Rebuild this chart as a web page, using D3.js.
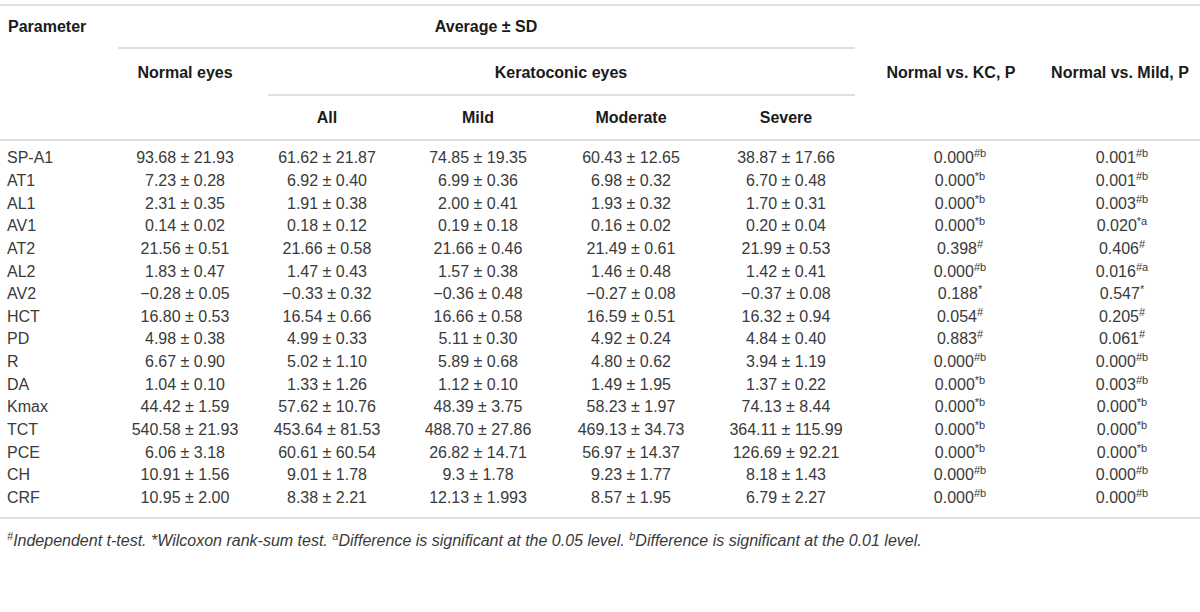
<!DOCTYPE html>
<html>
<head>
<meta charset="utf-8">
<script src="https://cdn.jsdelivr.net/npm/d3@7"></script>
<style>
  body { margin: 0; background: #fff; }
  svg text { font-family: "Liberation Sans", Arial, sans-serif; }
  .hd { font-weight: bold; fill: #1a1a1a; font-size: 16px; }
  .cell { fill: #3a3a3a; font-size: 16px; }
  .note { fill: #3a3a3a; font-size: 16px; font-style: italic; }
</style>
</head>
<body>
<svg id="chart"></svg>
<script>
const params = ["SP-A1", "AT1", "AL1", "AV1", "AT2", "AL2", "AV2", "HCT", "PD", "R", "DA", "Kmax", "TCT", "PCE", "CH", "CRF"];

const normalEyes = [
  ["93.68", "21.93"], ["7.23", "0.28"], ["2.31", "0.35"], ["0.14", "0.02"], ["21.56", "0.51"], ["1.83", "0.47"],
  ["\u22120.28", "0.05"], ["16.80", "0.53"], ["4.98", "0.38"], ["6.67", "0.90"], ["1.04", "0.10"], ["44.42", "1.59"],
  ["540.58", "21.93"], ["6.06", "3.18"], ["10.91", "1.56"], ["10.95", "2.00"]];
const kcAll = [
  ["61.62", "21.87"], ["6.92", "0.40"], ["1.91", "0.38"], ["0.18", "0.12"], ["21.66", "0.58"], ["1.47", "0.43"],
  ["\u22120.33", "0.32"], ["16.54", "0.66"], ["4.99", "0.33"], ["5.02", "1.10"], ["1.33", "1.26"], ["57.62", "10.76"],
  ["453.64", "81.53"], ["60.61", "60.54"], ["9.01", "1.78"], ["8.38", "2.21"]];
const kcMild = [
  ["74.85", "19.35"], ["6.99", "0.36"], ["2.00", "0.41"], ["0.19", "0.18"], ["21.66", "0.46"], ["1.57", "0.38"],
  ["\u22120.36", "0.48"], ["16.66", "0.58"], ["5.11", "0.30"], ["5.89", "0.68"], ["1.12", "0.10"], ["48.39", "3.75"],
  ["488.70", "27.86"], ["26.82", "14.71"], ["9.3", "1.78"], ["12.13", "1.993"]];
const kcModerate = [
  ["60.43", "12.65"], ["6.98", "0.32"], ["1.93", "0.32"], ["0.16", "0.02"], ["21.49", "0.61"], ["1.46", "0.48"],
  ["\u22120.27", "0.08"], ["16.59", "0.51"], ["4.92", "0.24"], ["4.80", "0.62"], ["1.49", "1.95"], ["58.23", "1.97"],
  ["469.13", "34.73"], ["56.97", "14.37"], ["9.23", "1.77"], ["8.57", "1.95"]];
const kcSevere = [
  ["38.87", "17.66"], ["6.70", "0.48"], ["1.70", "0.31"], ["0.20", "0.04"], ["21.99", "0.53"], ["1.42", "0.41"],
  ["\u22120.37", "0.08"], ["16.32", "0.94"], ["4.84", "0.40"], ["3.94", "1.19"], ["1.37", "0.22"], ["74.13", "8.44"],
  ["364.11", "115.99"], ["126.69", "92.21"], ["8.18", "1.43"], ["6.79", "2.27"]];

// p values with their test / significance marks
const pNormalKC = [
  ["0.000", "#b"], ["0.000", "*b"], ["0.000", "*b"], ["0.000", "*b"], ["0.398", "#"], ["0.000", "#b"],
  ["0.188", "*"], ["0.054", "#"], ["0.883", "#"], ["0.000", "#b"], ["0.000", "*b"], ["0.000", "*b"],
  ["0.000", "*b"], ["0.000", "*b"], ["0.000", "#b"], ["0.000", "#b"]];
const pNormalMild = [
  ["0.001", "#b"], ["0.001", "#b"], ["0.003", "#b"], ["0.020", "*a"], ["0.406", "#"], ["0.016", "#a"],
  ["0.547", "*"], ["0.205", "#"], ["0.061", "#"], ["0.000", "#b"], ["0.003", "#b"], ["0.000", "*b"],
  ["0.000", "*b"], ["0.000", "*b"], ["0.000", "#b"], ["0.000", "#b"]];

const columns = ["normal", "all", "mild", "moderate", "severe", "pkc", "pmild"];
const subHeaders = ["All", "Mild", "Moderate", "Severe"];

var width = 1200, height = 612;

var svg = d3.select("#chart").attr("width", width).attr("height", height);

var xCol = d3.scaleOrdinal()
    .domain(columns)
    .range([185, 327, 478, 631, 786, 960, 1122]);

var yRow = d3.scaleBand()
    .domain(params)
    .range([146.5, 508.5]);

function rule(y, x1, x2) {
    svg.append("line")
        .attr("x1", x1).attr("x2", x2)
        .attr("y1", y).attr("y2", y)
        .attr("stroke", "#d4d4d4")
        .attr("stroke-width", 1.5);
}

// rules
rule(5, 0, width);
rule(48, 118, 855);
rule(95, 268, 855);
rule(140, 0, width);
rule(518, 0, width);

// header text
function head(txt, x, y, anchor) {
    svg.append("text").attr("class", "hd")
        .attr("x", x).attr("y", y)
        .attr("dy", "0.35em")
        .attr("text-anchor", anchor || "middle")
        .text(txt);
}
head("Parameter", 8, 26, "start");
head("Average \u00b1 SD", 486, 26);
head("Normal eyes", xCol("normal"), 72);
head("Keratoconic eyes", 561, 72);
head("Normal vs. KC, P", 951, 72);
head("Normal vs. Mild, P", 1120, 72);
subHeaders.forEach(function(h, i) {
    head(h, xCol(columns[i + 1]), 117);
});

// body
var rows = svg.append("g").selectAll("g")
    .data(params)
    .enter().append("g")
    .attr("transform", function(d) { return "translate(0," + (yRow(d) + yRow.bandwidth() / 2) + ")"; });

rows.append("text").attr("class", "cell")
    .attr("x", 7).attr("dy", "0.35em")
    .text(function(d) { return d; });

var meanSets = { normal: normalEyes, all: kcAll, mild: kcMild, moderate: kcModerate, severe: kcSevere };

Object.keys(meanSets).forEach(function(key) {
    rows.append("text").attr("class", "cell")
        .attr("x", xCol(key)).attr("dy", "0.35em")
        .attr("text-anchor", "middle")
        .text(function(d, i) { return meanSets[key][i][0] + " \u00b1 " + meanSets[key][i][1]; });
});

var pSets = { pkc: pNormalKC, pmild: pNormalMild };

Object.keys(pSets).forEach(function(key) {
    var t = rows.append("text").attr("class", "cell")
        .attr("x", xCol(key)).attr("dy", "0.35em")
        .attr("text-anchor", "middle");
    t.append("tspan").text(function(d, i) { return pSets[key][i][0]; });
    t.append("tspan")
        .attr("font-size", "11px")
        .attr("dy", "-0.55em")
        .text(function(d, i) { return pSets[key][i][1]; });
});

// footnote
var note = svg.append("text").attr("class", "note").attr("x", 7).attr("y", 546);
var parts = [
    ["#", true], ["Independent t-test. ", false],
    ["*Wilcoxon rank-sum test. ", false],
    ["a", true], ["Difference is significant at the 0.05 level. ", false],
    ["b", true], ["Difference is significant at the 0.01 level.", false]];
parts.forEach(function(p) {
    var s = note.append("tspan").text(p[0]);
    if (p[1]) {
        s.attr("font-size", "11px").attr("baseline-shift", "super");
    }
});
</script>
</body>
</html>
